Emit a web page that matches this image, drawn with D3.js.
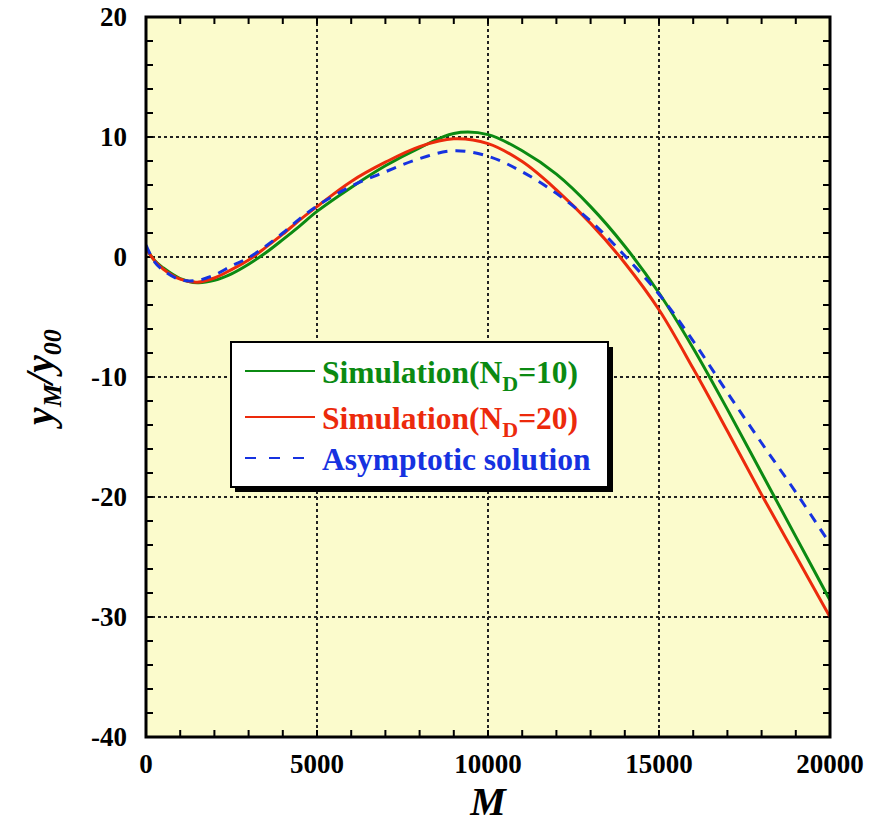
<!DOCTYPE html>
<html>
<head>
<meta charset="utf-8">
<script src="https://cdn.jsdelivr.net/npm/d3@7"></script>
<style>
  body { margin: 0; background: #fff; }
  text { font-family: "Liberation Serif", "Times New Roman", serif; font-weight: bold; }
</style>
</head>
<body>
<svg width="875" height="823"></svg>
<script>
// M values shared by all three curves
var mVals = [0, 250, 500, 1000, 1500, 2000, 2500, 3000, 3500, 4000, 4500, 5000, 6000, 7000, 8000,
             9000, 10000, 11000, 12000, 13000, 14000, 15000, 16000, 17000, 18000, 19000, 20000];

// Simulation (N_D=10)
var simND10 = [0.8, -0.3, -0.9, -1.8, -2.15, -1.95, -1.4, -0.6, 0.35, 1.45, 2.6, 3.8, 5.8, 7.6, 9.1,
               10.3, 10.2, 8.85, 6.9, 4.2, 0.9, -3.0, -7.6, -12.7, -18.0, -23.3, -28.6];
// Simulation (N_D=20)
var simND20 = [0.7, -0.3, -1.0, -1.85, -2.1, -1.75, -1.05, -0.25, 0.8, 1.9, 3.1, 4.2, 6.3, 7.9, 9.2,
               9.85, 9.45, 7.95, 5.6, 2.8, -0.5, -4.4, -9.3, -14.5, -19.8, -24.9, -30.0];
// Asymptotic solution
var asymp = [1.0, -0.4, -1.1, -1.9, -1.95, -1.5, -0.75, -0.05, 0.9, 2.0, 3.2, 4.25, 5.9, 7.1, 8.2,
             8.85, 8.4, 7.1, 5.3, 3.0, 0.1, -3.1, -7.0, -11.3, -15.5, -19.6, -23.9];

var xTicks = [0, 5000, 10000, 15000, 20000];
var yTicks = [20, 10, 0, -10, -20, -30, -40];

var series = [
  { name: "Simulation(N", sub: "D", tail: "=10)", values: simND10, color: "#0b8a12", dash: null },
  { name: "Simulation(N", sub: "D", tail: "=20)", values: simND20, color: "#ec2a0c", dash: null },
  { name: "Asymptotic solution", sub: null, tail: "", values: asymp, color: "#1632e0", dash: "10,8" }
];

var svg = d3.select("svg");
var pL = 146, pR = 830, pT = 17, pB = 737;

var x = d3.scaleLinear().domain([0, 20000]).range([pL, pR]);
var y = d3.scaleLinear().domain([-40, 20]).range([pB, pT]);

// plot background
svg.append("rect")
  .attr("x", pL).attr("y", pT)
  .attr("width", pR - pL).attr("height", pB - pT)
  .attr("fill", "#fbfbcc");

// dotted grid at major ticks
var grid = svg.append("g").attr("stroke", "#222").attr("stroke-width", 2).attr("stroke-dasharray", "3,3");
grid.selectAll(".gx").data(xTicks.slice(1, -1)).enter().append("line")
  .attr("x1", d => x(d)).attr("x2", d => x(d)).attr("y1", pT).attr("y2", pB);
grid.selectAll(".gy").data(yTicks.slice(1, -1)).enter().append("line")
  .attr("x1", pL).attr("x2", pR).attr("y1", d => y(d)).attr("y2", d => y(d));

// minor ticks, inward, on all four sides
var xMinor = d3.range(1000, 20000, 1000);
var yMinor = d3.range(-38, 20, 2);
var ticks = svg.append("g").attr("stroke", "#000").attr("stroke-width", 2);
var tl = 7;
ticks.selectAll(".tb").data(xMinor).enter().append("line")
  .attr("x1", d => x(d)).attr("x2", d => x(d)).attr("y1", pB).attr("y2", pB - tl);
ticks.selectAll(".tt").data(xMinor).enter().append("line")
  .attr("x1", d => x(d)).attr("x2", d => x(d)).attr("y1", pT).attr("y2", pT + tl);
ticks.selectAll(".tl").data(yMinor).enter().append("line")
  .attr("x1", pL).attr("x2", pL + tl).attr("y1", d => y(d)).attr("y2", d => y(d));
ticks.selectAll(".tr").data(yMinor).enter().append("line")
  .attr("x1", pR).attr("x2", pR - tl).attr("y1", d => y(d)).attr("y2", d => y(d));

// curves
svg.append("clipPath").attr("id", "clip").append("rect")
  .attr("x", pL).attr("y", pT).attr("width", pR - pL).attr("height", pB - pT);

var line = d3.line()
  .x((d, i) => x(mVals[i]))
  .y(d => y(d))
  .curve(d3.curveCatmullRom);

svg.append("g").attr("clip-path", "url(#clip)")
  .selectAll("path").data(series).enter().append("path")
  .attr("d", d => line(d.values))
  .attr("fill", "none")
  .attr("stroke", d => d.color)
  .attr("stroke-width", 3)
  .attr("stroke-dasharray", d => d.dash);

// frame
svg.append("rect")
  .attr("x", pL).attr("y", pT)
  .attr("width", pR - pL).attr("height", pB - pT)
  .attr("fill", "none").attr("stroke", "#000").attr("stroke-width", 3);

// tick labels
svg.append("g").selectAll("text").data(xTicks).enter().append("text")
  .attr("x", d => x(d)).attr("y", 773)
  .attr("text-anchor", "middle").attr("font-size", 27)
  .text(d => d);
svg.append("g").selectAll("text").data(yTicks).enter().append("text")
  .attr("x", 127).attr("y", d => y(d) + 9)
  .attr("text-anchor", "end").attr("font-size", 27)
  .text(d => d);

// axis titles
svg.append("text")
  .attr("x", 488).attr("y", 815)
  .attr("text-anchor", "middle").attr("font-size", 40).attr("font-style", "italic")
  .text("M");

var yl = svg.append("text")
  .attr("transform", "translate(53,377) rotate(-90)")
  .attr("text-anchor", "middle").attr("font-size", 40).attr("font-style", "italic");
yl.append("tspan").text("y");
yl.append("tspan").attr("font-size", 26).attr("dy", 8).text("M");
yl.append("tspan").attr("dy", -8).text("/y");
yl.append("tspan").attr("font-size", 26).attr("dy", 8).text("00");

// legend
var lg = svg.append("g");
lg.append("rect").attr("x", 235).attr("y", 347).attr("width", 378).attr("height", 145).attr("fill", "#000");
lg.append("rect").attr("x", 231).attr("y", 342).attr("width", 377).attr("height", 145)
  .attr("fill", "#fff").attr("stroke", "#000").attr("stroke-width", 2);

var rowY = [371, 417, 458];
series.forEach(function(s, i) {
  lg.append("line")
    .attr("x1", 245).attr("x2", 315).attr("y1", rowY[i]).attr("y2", rowY[i])
    .attr("stroke", s.color).attr("stroke-width", 2)
    .attr("stroke-dasharray", s.dash ? "11,13" : null);
  var t = lg.append("text")
    .attr("x", 322).attr("y", rowY[i] + 12)
    .attr("font-size", 31.5).attr("fill", s.color);
  t.append("tspan").text(s.name);
  if (s.sub) {
    t.append("tspan").attr("font-size", 22).attr("dy", 8).text(s.sub);
    t.append("tspan").attr("dy", -8).text(s.tail);
  }
});
</script>
</body>
</html>
